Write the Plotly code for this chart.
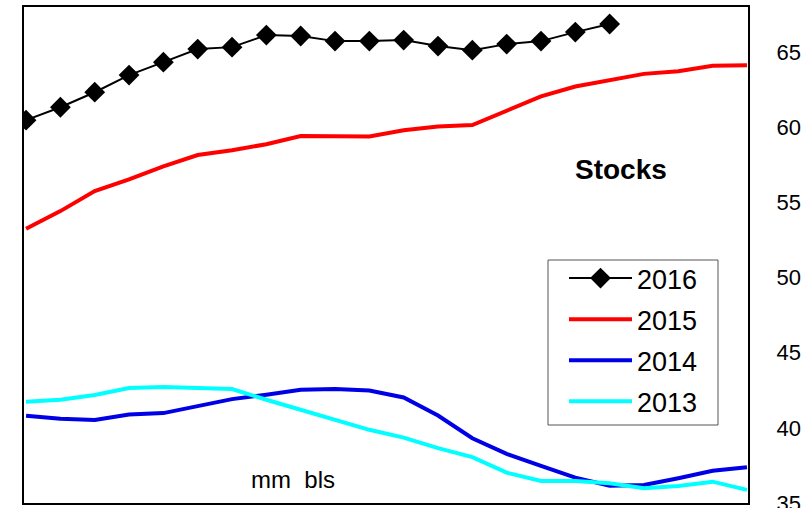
import plotly.graph_objects as go

weeks = list(range(22))

y2016 = [60.47, 61.33, 62.33, 63.47, 64.33, 65.2, 65.33, 66.13, 66.07, 65.73, 65.73, 65.8,
         65.4, 65.13, 65.53, 65.73, 66.33, 66.87]
y2015 = [53.25, 54.42, 55.75, 56.53, 57.4, 58.15, 58.47, 58.87, 59.42, 59.38, 59.38, 59.8,
         60.05, 60.15, 61.09, 62.05, 62.71, 63.13, 63.55, 63.73, 64.09, 64.13]
y2014 = [40.8, 40.6, 40.53, 40.89, 40.98, 41.42, 41.91, 42.2, 42.53, 42.58, 42.49, 42.02,
         40.82, 39.31, 38.27, 37.47, 36.69, 36.15, 36.2, 36.65, 37.15, 37.38]
y2013 = [41.73, 41.87, 42.18, 42.65, 42.71, 42.65, 42.58, 41.87, 41.2, 40.53, 39.87, 39.35,
         38.65, 38.05, 37.02, 36.47, 36.47, 36.31, 35.98, 36.13, 36.42, 35.87]

y_ticks = [35, 40, 45, 50, 55, 60, 65]

FONT = "Liberation Sans, Arial, sans-serif"

W, H = 803, 508
ML, MR, MT, MB = 24, 55, 7, 5
PW, PH = W - ML - MR, H - MT - MB


def px_x(x):
    return (x - ML) / PW


def px_y(y):
    return (H - MB - y) / PH


fig = go.Figure()
fig.add_trace(go.Scatter(x=weeks[:len(y2016)], y=y2016, name="2016", mode="lines+markers",
                         legendgroup="a",
                         line=dict(color="black", width=2),
                         marker=dict(symbol="diamond", size=16, color="black")))
fig.add_trace(go.Scatter(x=weeks, y=y2015, name="2015", mode="lines", legendgroup="b",
                         line=dict(color="#ff0000", width=4)))
fig.add_trace(go.Scatter(x=weeks, y=y2014, name="2014", mode="lines", legendgroup="c",
                         line=dict(color="#0000e6", width=4)))
fig.add_trace(go.Scatter(x=weeks, y=y2013, name="2013", mode="lines", legendgroup="d",
                         line=dict(color="#00ffff", width=4)))

fig.add_annotation(x=17.33, y=57.2, text="<b>Stocks</b>", showarrow=False,
                   font=dict(family=FONT, size=28, color="black"))
fig.add_annotation(x=7.78, y=36.55, text="mm  bls", showarrow=False,
                   font=dict(family=FONT, size=24, color="black"))

# legend frame
fig.add_shape(type="rect", xref="paper", yref="paper",
              x0=px_x(548), x1=px_x(718), y0=px_y(425), y1=px_y(260),
              line=dict(color="#555555", width=1), fillcolor="white", layer="above")

fig.update_layout(
    width=W, height=H,
    margin=dict(l=ML, r=MR, t=MT, b=MB, autoexpand=False),
    paper_bgcolor="white", plot_bgcolor="white",
    font=dict(family=FONT, color="black"),
    showlegend=True,
    legend=dict(x=px_x(564), y=px_y(254), xanchor="left", yanchor="top",
                bgcolor="rgba(0,0,0,0)", borderwidth=0,
                font=dict(family=FONT, size=27, color="black"),
                itemwidth=63, tracegroupgap=3),
    xaxis=dict(range=[-0.06, 21.03], showgrid=False, zeroline=False,
               showticklabels=False, ticks="", showline=True, linecolor="black",
               linewidth=2, mirror=True, automargin=False),
    yaxis=dict(range=[35, 68], side="right", tickvals=y_ticks, showgrid=False,
               zeroline=False, ticks="", showline=True, linecolor="black",
               linewidth=2, mirror=True, ticklabelstandoff=22,
               ticklabeloverflow="allow", automargin=False,
               tickfont=dict(family=FONT, size=22, color="black")),
)

fig.write_html("out.html", config={"displayModeBar": False},
               post_script="document.body.style.margin='0';")
